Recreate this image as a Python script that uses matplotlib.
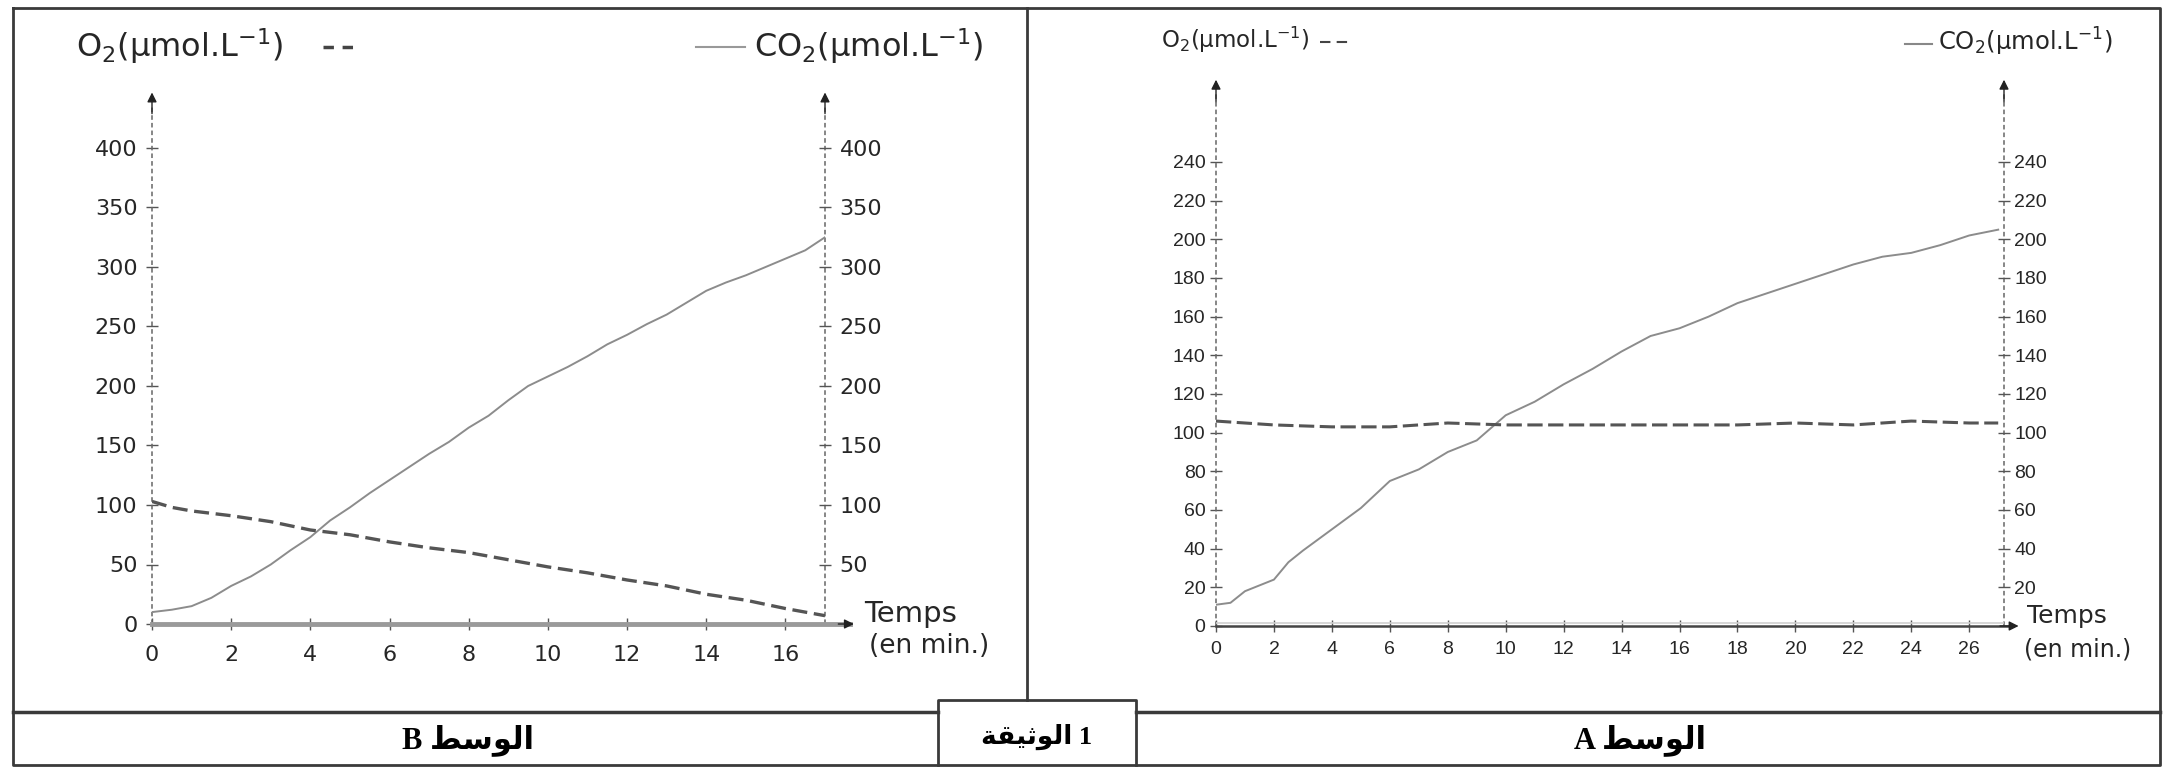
import matplotlib
matplotlib.use("Agg")
import matplotlib.pyplot as plt

plt.rcParams['font.family'] = ['DejaVu Sans']

# ---- Milieu B ----
b_t = [0, 0.5, 1, 1.5, 2, 2.5, 3, 3.5, 4, 4.5, 5, 5.5, 6, 6.5, 7, 7.5, 8, 8.5,
       9, 9.5, 10, 10.5, 11, 11.5, 12, 12.5, 13, 13.5, 14, 14.5, 15, 15.5, 16, 16.5, 17]
b_co2 = [10, 12, 15, 22, 32, 40, 50, 62, 73, 87, 98, 110, 121, 132, 143, 153, 165, 175,
         188, 200, 208, 216, 225, 235, 243, 252, 260, 270, 280, 287, 293, 300, 307, 314, 325]
b_o2_t = [0, 0.5, 1, 2, 3, 4, 5, 6, 7, 8, 9, 10, 11, 12, 13, 14, 15, 16, 17]
b_o2 = [103, 98, 95, 91, 86, 79, 75, 69, 64, 60, 54, 48, 43, 37, 32, 25, 20, 13, 7]
b_yticks = [0, 50, 100, 150, 200, 250, 300, 350, 400]
b_xticks = [0, 2, 4, 6, 8, 10, 12, 14, 16]

# ---- Milieu A ----
a_t = [0, 0.5, 1, 2, 2.5, 3, 4, 5, 6, 7, 8, 9, 10, 11, 12, 13, 14, 15, 16, 17,
       18, 19, 20, 21, 22, 23, 24, 25, 26, 27]
a_co2 = [11, 12, 18, 24, 33, 39, 50, 61, 75, 81, 90, 96, 109, 116, 125, 133, 142, 150, 154, 160,
         167, 172, 177, 182, 187, 191, 193, 197, 202, 205]
a_o2_t = [0, 2, 4, 6, 8, 10, 12, 14, 16, 18, 20, 22, 24, 26, 27]
a_o2 = [106, 104, 103, 103, 105, 104, 104, 104, 104, 104, 105, 104, 106, 105, 105]
a_yticks = [0, 20, 40, 60, 80, 100, 120, 140, 160, 180, 200, 220, 240]
a_xticks = [0, 2, 4, 6, 8, 10, 12, 14, 16, 18, 20, 22, 24, 26]

W, H = 2168, 767
fig = plt.figure(figsize=(W / 100, H / 100), dpi=100)

# fond : cadres et textes en pixels
bg = fig.add_axes([0, 0, 1, 1])
bg.set_xlim(0, W)
bg.set_ylim(H, 0)
bg.axis('off')

fc = '#3a3a3a'
bg.plot([13, 2160, 2160, 13, 13], [8, 8, 765, 765, 8], color=fc, lw=2)
bg.plot([1027, 1027], [8, 700], color=fc, lw=2)
bg.plot([13, 938], [712, 712], color=fc, lw=2.5)
bg.plot([1136, 2160], [712, 712], color=fc, lw=2.5)
bg.plot([938, 938, 1136, 1136], [765, 700, 700, 765], color=fc, lw=2)

arab_b = "\uFEC2\uFEB3\uFEEE\uFEDF\uFE8D"
arab_doc = "\uFE94\uFED8\uFEF4\uFE9B\uFEEE\uFEDF\uFE8D"
bfont = ['Liberation Serif', 'DejaVu Sans']
bg.text(468, 740, "B " + arab_b, ha='center', va='center', fontsize=22,
        fontweight='bold', family=bfont)
bg.text(1640, 740, "A " + arab_b, ha='center', va='center', fontsize=22,
        fontweight='bold', family=bfont)
bg.text(1037, 737, arab_doc + " 1", ha='center', va='center', fontsize=19,
        fontweight='bold', family=bfont)

tc = '#262626'
# titres B
bg.text(76, 46, r'O$_\mathregular{2}$(µmol.L$^\mathregular{-1}$)', ha='left', va='center',
        fontsize=23, color=tc)
bg.plot([323, 353], [47, 47], color='#444', lw=2.5, ls=(0, (3, 2.5)))
bg.plot([696, 745], [47, 47], color='#999', lw=1.5)
bg.text(754, 46, r'CO$_\mathregular{2}$(µmol.L$^\mathregular{-1}$)', ha='left', va='center',
        fontsize=23, color=tc)
# titres A
bg.text(1161, 40, r'O$_\mathregular{2}$(µmol.L$^\mathregular{-1}$)', ha='left', va='center',
        fontsize=16.5, color=tc)
bg.plot([1320, 1350], [42, 42], color='#444', lw=1.5, ls=(0, (5, 3)))
bg.plot([1905, 1932], [44, 44], color='#888', lw=1.5)
bg.text(1938, 42, r'CO$_\mathregular{2}$(µmol.L$^\mathregular{-1}$)', ha='left', va='center',
        fontsize=17.5, color=tc)


def draw_axes(ax, xmax, ytop, xarrow, xaxis_style):
    for s in ax.spines.values():
        s.set_visible(False)
    ax.patch.set_alpha(0)
    for x in (0, xmax):
        ax.plot([x, x], [0, ytop * 0.97], color='#666', lw=1.1, ls=(0, (3, 2)),
                clip_on=False)
        ax.annotate('', xy=(x, ytop), xytext=(x, ytop * 0.95),
                    arrowprops=dict(arrowstyle='-|>', color='#222', lw=1,
                                    mutation_scale=14),
                    annotation_clip=False)
    ax.plot([0, xarrow * 0.99], [0, 0], clip_on=False, **xaxis_style)
    ax.annotate('', xy=(xarrow, 0), xytext=(xarrow * 0.97, 0),
                arrowprops=dict(arrowstyle='-|>', color='#222', lw=1,
                                mutation_scale=14),
                annotation_clip=False)


def right_labels(ax, ticks, size, pad, family):
    # graduations de droite, sans le 0 (la flèche du temps est là)
    ax2 = ax.twinx()
    ax2.set_ylim(ax.get_ylim())
    for s in ax2.spines.values():
        s.set_visible(False)
    ax2.patch.set_alpha(0)
    ax2.set_yticks(ticks[1:])
    ax2.tick_params(axis='y', direction='inout', length=9, width=1, color='#555',
                    pad=pad, labelsize=size, labelcolor=tc)
    for lab in ax2.get_yticklabels():
        lab.set_family(family)


# ---- graphe B ----
axb = fig.add_axes([152 / W, (H - 624) / H, (825 - 152) / W, (624 - 148) / H])
axb.set_xlim(0, 17)
axb.set_ylim(0, 400)
draw_axes(axb, 17, 449, 17.8, dict(color='#9a9a9a', lw=3.5))
axb.plot(b_t, b_co2, color='#8c8c8c', lw=1.4)
axb.plot(b_o2_t, b_o2, color='#555555', lw=2.4, ls=(0, (4.5, 2)))
axb.set_xticks(b_xticks)
axb.set_yticks(b_yticks)
axb.tick_params(axis='x', direction='inout', length=8, width=1, color='#555',
                pad=11, labelsize=16, labelcolor=tc)
axb.tick_params(axis='y', direction='inout', length=9, width=1, color='#555', pad=6,
                labelsize=16, labelcolor=tc)
right_labels(axb, b_yticks, 16, 6, 'DejaVu Sans')
axb.text(18.0, 8, 'Temps', ha='left', va='center', fontsize=21, color=tc)
axb.text(18.1, -18.5, '(en min.)', ha='left', va='center', fontsize=19, color=tc)

# ---- graphe A ----
axa = fig.add_axes([1216 / W, (H - 626) / H, (2004 - 1216) / W, (626 - 162) / H])
axa.set_xlim(0, 27.2)
axa.set_ylim(0, 240)
draw_axes(axa, 27.2, 284, 27.8, dict(color='#444', lw=1.8))
axa.plot([0, 27.2], [1.5, 1.5], color='#cfcfcf', lw=1.2)
axa.plot(a_t, a_co2, color='#8c8c8c', lw=1.4)
axa.plot(a_o2_t, a_o2, color='#555555', lw=2.2, ls=(0, (5, 1.8)))
axa.set_xticks(a_xticks)
axa.set_yticks(a_yticks)
axa.tick_params(axis='x', direction='inout', length=8, width=1, color='#555',
                pad=7, labelsize=14, labelcolor=tc)
axa.tick_params(axis='y', direction='inout', length=9, width=1, color='#555', pad=3,
                labelsize=14, labelcolor=tc)
for lab in axa.get_xticklabels() + axa.get_yticklabels():
    lab.set_family('Liberation Sans')
right_labels(axa, a_yticks, 14, 3, 'Liberation Sans')
axa.text(28.0, 5, 'Temps', ha='left', va='center', fontsize=18, color=tc)
axa.text(27.9, -12, '(en min.)', ha='left', va='center', fontsize=17, color=tc)

fig.savefig('out.png', dpi=100)
